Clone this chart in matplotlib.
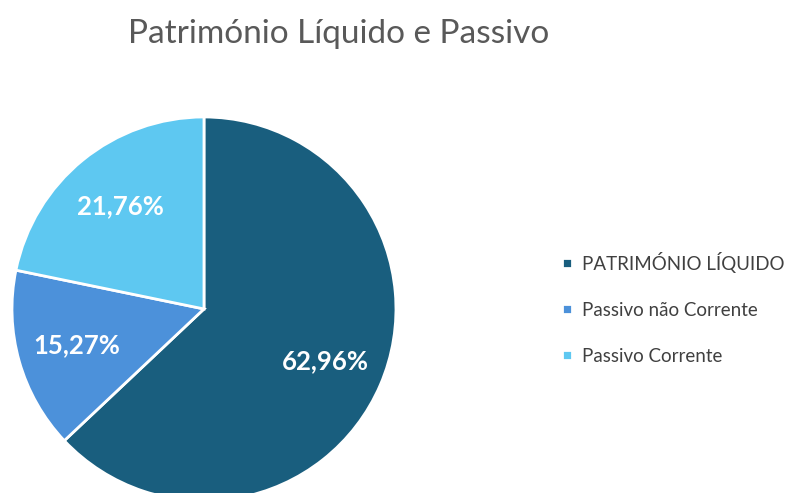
import matplotlib
matplotlib.use("Agg")
import matplotlib.pyplot as plt

plt.rcParams["font.family"] = ["Lato", "DejaVu Sans"]

categories = ["PATRIMÓNIO LÍQUIDO", "Passivo não Corrente", "Passivo Corrente"]
shares = [62.96, 15.27, 21.76]
colors = ["#195E7E", "#4C91DA", "#5EC8F1"]

fig = plt.figure(figsize=(7.94, 4.93), dpi=100)
ax = fig.add_axes([0.0151, -0.0162, 0.4836, 0.779])

# show the values as given (autopct would renormalise 99.99 -> 100)
pct_labels = iter(f"{v:.2f}%".replace(".", ",") for v in shares)
wedges, _, autotexts = ax.pie(
    shares, colors=colors, startangle=90, counterclock=False,
    autopct=lambda p: next(pct_labels), pctdistance=0.69,
    wedgeprops=dict(edgecolor="white", linewidth=2),
    textprops=dict(color="white", fontsize=18.5, fontweight="bold"),
)
ax.set_xlim(-1, 1)
ax.set_ylim(-1, 1)

fig.text(0.427, 0.932, "Património Líquido e Passivo", ha="center", va="center",
         fontsize=24, color="#595959")

fig.legend(wedges, categories, loc="center left", bbox_to_anchor=(0.687, 0.375),
           frameon=False, handlelength=0.5, handleheight=0.5, handletextpad=0.55,
           labelspacing=1.55, fontsize=13.5, labelcolor="#404040")

fig.savefig("out.png", dpi=100)
